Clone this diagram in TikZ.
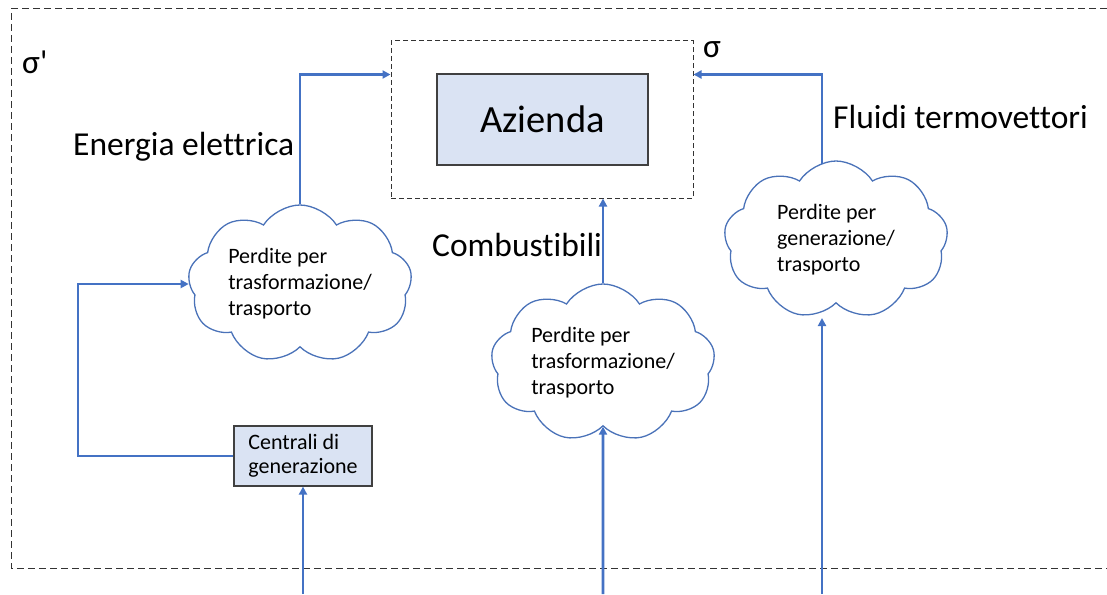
\documentclass[tikz,border=0pt]{standalone}
\usepackage{fontspec}
\setmainfont{Carlito}[Ligatures=NoCommon]
\newfontfamily\plainsym{Carlito}
\usetikzlibrary{shapes.symbols,arrows.meta}
\definecolor{flow}{HTML}{4472C4}
\definecolor{boxfill}{HTML}{DAE3F3}
\definecolor{puffline}{HTML}{4A72B8}

\begin{document}
\begin{tikzpicture}[x=1pt,y=-1pt,
  flowline/.style={draw=flow,line width=2.8pt},
  arr/.style={flowline,-{Triangle[length=8pt,width=8pt]}},
  puff/.style={cloud,cloud puffs=9,cloud puff arc=115,cloud ignores aspect,
    draw=puffline,line width=1.3pt,minimum width=224pt,minimum height=158pt,
    align=left,font=\fontsize{22}{26}\selectfont,inner sep=0pt},
  unit/.style={draw=black!75,fill=boxfill,line width=1.2pt,inner sep=0pt},
  flowtext/.style={font=\fontsize{33.5}{40}\selectfont,inner sep=0pt,anchor=base west},
  border/.style={draw=black!80,line width=1pt,dash pattern=on 7pt off 4pt}
]
\useasboundingbox (0,0) rectangle (1107,594);

% outer boundary sigma'
\draw[border] (1107,9) -- (11,9) -- (11,568) -- (1107,568);

% company boundary sigma
\node[draw=black!80,line width=1pt,dash pattern=on 5pt off 3pt,
      minimum width=302pt,minimum height=157pt,inner sep=0pt] (sys) at (542,119.5) {};
\node[unit,minimum width=211pt,minimum height=91pt,font=\fontsize{38.5}{46}\selectfont]
      (az) at (542.5,119.5) {Azienda};

% generation plants
\node[unit,minimum width=138pt,minimum height=60pt,align=left,
      font=\fontsize{22}{24}\selectfont] (cg) at (303,456) {Centrali di\\generazione};

% loss clouds
\node[puff] (c1) at (300,284) {Perdite per\\trasformazione/\\trasporto};
\node[puff] (c2) at (603,363) {Perdite per\\trasformazione/\\trasporto};
\node[puff] (c3) at (836,240) {Perdite per\\generazione/\\trasporto};

% labels
\node[flowtext] (sigp) at (22,73) {\plainsym σ'};
\node[flowtext] (sig) at (703,57) {σ};
\node[flowtext] (lel) at (73,155) {Energia elettrica};
\node[flowtext] (lfl) at (833,128) {Fluidi termovettori};
\node[flowtext] (lco) at (432,256) {Combustibili};

% incoming flows from outside
\coordinate (in1) at (303,594);
\coordinate (in2) at (603,594);
\coordinate (in3) at (822,594);
\coordinate (c3in) at (822,318);
\coordinate (c3out) at (822,164);

\draw[arr] (in1) -- (cg.south);
\draw[arr] (in2) -- (c2.south);
\draw[arr] (in3) -- (c3in);

% electricity path
\draw[arr] (cg.west) -- (78,456) |- (c1.west);
\draw[arr] (c1.north) |- ([yshift=-34pt]sys.north west);

% fuels
\draw[arr] (c2.north) -- (sys.south -| c2.north);

% heat-transfer fluids
\draw[arr] (c3out) |- ([yshift=-34pt]sys.north east);
\end{tikzpicture}
\end{document}
